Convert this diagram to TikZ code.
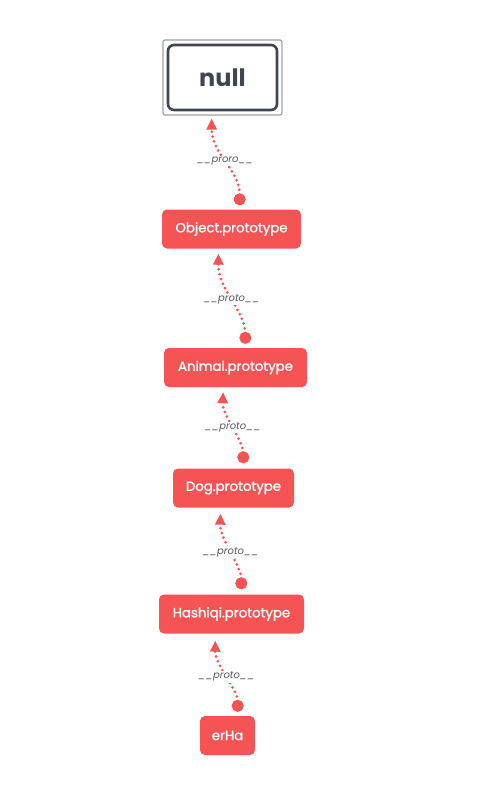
\documentclass[tikz,border=0pt]{standalone}
\usepackage{fontspec}
\setmainfont{Poppins}
\newfontfamily\boxfont{Poppins}[FakeBold=1.3]
\usetikzlibrary{arrows.meta}
\definecolor{protored}{RGB}{245,83,84}
\definecolor{nullgray}{RGB}{64,70,80}
\definecolor{labelgray}{RGB}{85,88,95}
\tikzset{
  proto/.style={draw=none, fill=protored, rounded corners=5pt, text=white,
    font=\boxfont\fontsize{13.3}{15}\selectfont, inner xsep=4pt, minimum height=39pt},
  link/.style={protored, line width=3pt, line cap=round, dash pattern=on 0pt off 5pt,
    {Circle[length=12pt,width=12pt,line cap=butt]}-{Triangle[length=11pt,width=10pt,line cap=butt]}},
  linklabel/.style={fill=white, inner sep=1pt, text=labelgray, font=\fontsize{10}{12}\selectfont\itshape}
}
\begin{document}
\begin{tikzpicture}[x=1pt,y=1pt,yscale=-1]
\useasboundingbox (0,0) rectangle (486,812);

% top box
\node (nullframe) [draw=gray!75, line width=1.2pt, rounded corners=2pt, minimum width=119pt, minimum height=75pt] at (222.5,77.5) {};
\node (null) [draw=nullgray, line width=2.6pt, rounded corners=6pt, minimum width=109pt, minimum height=65pt, text=nullgray, font=\fontsize{24}{27}\selectfont\bfseries] at (222.5,77.5) {null};

% prototype chain
\node (obj) [proto, minimum width=139pt] at (231.5,229) {Object.prototype};
\node (animal) [proto, minimum width=143pt] at (235.5,367.5) {Animal.prototype};
\node (dog) [proto, minimum width=121pt] at (233.5,488) {Dog.prototype};
\node (hashiqi) [proto, minimum width=145pt] at (231.5,614) {Hashiqi.prototype};
\node (erha) [proto, minimum width=55pt] at (227.5,735.5) {erHa};

% links
\draw [link, shorten <=4pt, shorten >=3pt] ([xshift=8pt]obj.north) .. controls (240,170) and (212,155) .. ([xshift=-11pt]nullframe.south) node [linklabel, pos=0.52] {\_\_proro\_\_};
\draw [link, shorten <=4pt, shorten >=5pt] ([xshift=10pt]animal.north) .. controls (245,310) and (218,290) .. ([xshift=-13pt]obj.south) node [linklabel, pos=0.5] {\_\_proto\_\_};
\draw [link, shorten <=5pt, shorten >=5pt] ([xshift=10pt]dog.north) .. controls (243,440) and (222,415) .. ([xshift=-12pt]animal.south) node [linklabel, pos=0.5] {\_\_proto\_\_};
\draw [link, shorten <=5pt, shorten >=6pt] ([xshift=10pt]hashiqi.north) .. controls (241,565) and (220,540) .. ([xshift=-13pt]dog.south) node [linklabel, pos=0.5] {\_\_proto\_\_};
\draw [link, shorten <=4pt, shorten >=7pt] ([xshift=10pt]erha.north) .. controls (238,690) and (215,665) .. ([xshift=-16pt]hashiqi.south) node [linklabel, pos=0.5] {\_\_proto\_\_};

\end{tikzpicture}
\end{document}
